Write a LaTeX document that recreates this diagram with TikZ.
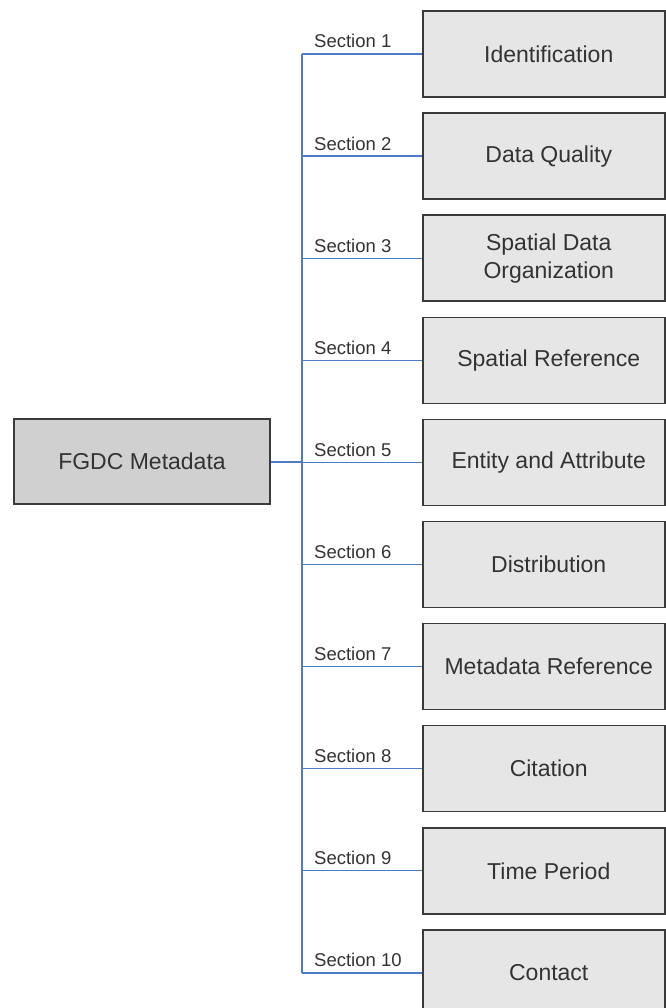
\documentclass[tikz,border=0pt]{standalone}
\usepackage{fontspec}
\setmainfont{Liberation Sans}
\definecolor{conn}{HTML}{4A7CC9}
\definecolor{edge}{HTML}{3A3A3A}
\definecolor{txt}{HTML}{333333}
\definecolor{rootfill}{HTML}{D0D0D0}
\definecolor{secfill}{HTML}{E6E6E6}
\begin{document}
\begin{tikzpicture}[x=1pt,y=-1pt,
  secbox/.style={draw=edge,line width=1.5pt,fill=secfill,minimum width=242pt,minimum height=86pt,
    inner sep=0pt,anchor=west},
  sectext/.style={align=center,text=txt,font=\fontsize{23}{28}\selectfont,xshift=5pt},
  rootbox/.style={draw=edge,line width=1.5pt,fill=rootfill,minimum width=256pt,minimum height=85pt,
    inner sep=0pt,align=center,text=txt,font=\fontsize{23}{28}\selectfont},
  connline/.style={draw=conn,line width=1.2pt},
  seclabel/.style={anchor=base west,inner sep=0pt,text=txt,font=\fontsize{18.5}{22}\selectfont}]
\useasboundingbox (0,0) rectangle (665,1008);
\node[rootbox] (root) at (142,461.5) {FGDC Metadata};
\foreach \k/\t in {1/Identification,2/Data Quality,3/{Spatial Data\\Organization},4/Spatial Reference,
  5/Entity and Attribute,6/Distribution,7/Metadata Reference,8/Citation,9/Time Period,10/Contact}{
  \pgfmathsetmacro{\yy}{54+(\k-1)*102.1}
  \node[secbox,label={[sectext]center:\t}] (b\k) at (422,\yy) {};
  \coordinate (j\k) at (302,\yy);
  \draw[connline] (j\k) -- (b\k.west);
  \node[seclabel] (l\k) at (314,\yy-6) {Section \k};
}
\draw[connline] (j1) -- (j10);
\draw[conn,line width=2pt] (root.east) -- (root.east -| j1);
\end{tikzpicture}
\end{document}
